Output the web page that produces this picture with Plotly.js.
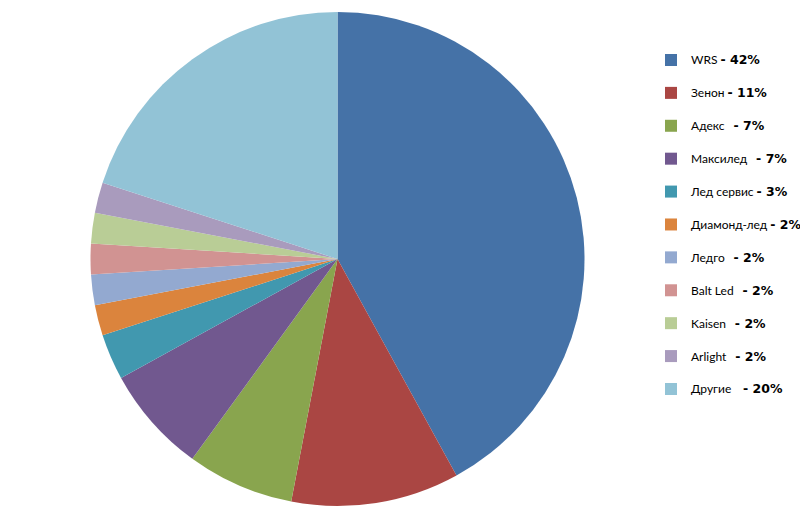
<!DOCTYPE html>
<html>
<head>
<meta charset="utf-8">
<script src="https://cdn.plot.ly/plotly-3.0.1.min.js"></script>
<style>html,body{margin:0;padding:0;background:#fff;overflow:hidden;}#chart{width:800px;height:531px;}</style>
</head>
<body>
<div id="chart"></div>
<script>
const categories = ["WRS", "Зенон", "Адекс", "Максилед", "Лед сервис", "Диамонд-лед", "Ледго", "Balt Led", "Kaisen", "Arlight", "Другие"];
const shares = [42, 11, 7, 7, 3, 2, 2, 2, 2, 2, 20];
const gapSpaces = [1, 1, 3, 3, 1, 1, 3, 3, 3, 3, 4];
const colors = ["#4572A7", "#AA4643", "#89A54E", "#71588F", "#4198AF", "#DB843D", "#93A9D0", "#D19392", "#B9CD96", "#A99BBD", "#92C3D6"];

const labels = categories.map((c, i) =>
  '<span style="font-family:Lato;font-size:12px">' + c + '</span>' +
  '\u00a0'.repeat(gapSpaces[i]) +
  '<span style="font-family:\'DejaVu Sans\';font-weight:bold;font-size:12.5px">- ' + shares[i] + '%</span>' +
  '<br>\u00a0'
);

const trace = {
  type: 'pie',
  labels: labels,
  values: shares,
  sort: false,
  direction: 'clockwise',
  rotation: 0,
  textinfo: 'none',
  hoverinfo: 'label+percent',
  marker: {colors: colors, line: {width: 0}},
  domain: {x: [90/800, 585/800], y: [25/531, 519/531]}
};

const layout = {
  width: 800, height: 531,
  margin: {l: 0, r: 0, t: 0, b: 0, autoexpand: false},
  paper_bgcolor: '#ffffff',
  showlegend: true,
  legend: {
    x: 651/800, xanchor: 'left',
    y: (531-46)/531, yanchor: 'top',
    valign: 'top',
    font: {family: 'Lato', size: 11.5, color: '#000000'},
    bgcolor: 'rgba(0,0,0,0)'
  }
};

Plotly.newPlot('chart', [trace], layout, {displayModeBar: false, staticPlot: true});
</script>
</body>
</html>
